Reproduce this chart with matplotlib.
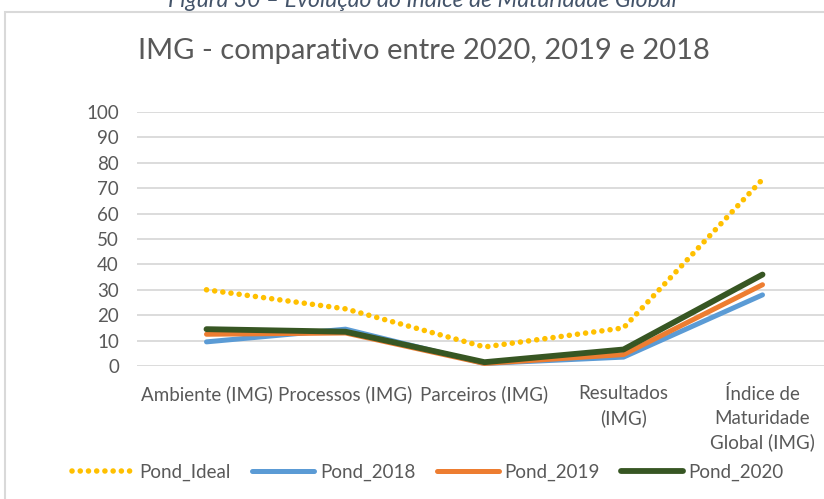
import matplotlib
matplotlib.use("Agg")
import matplotlib.pyplot as plt
from matplotlib.patches import Rectangle

plt.rcParams['font.family'] = ['Lato', 'DejaVu Sans']

categories = ['Ambiente (IMG)', 'Processos (IMG)', 'Parceiros (IMG)',
              'Resultados\n(IMG)', 'Índice de\nMaturidade\nGlobal (IMG)']
pond_ideal = [30, 22.5, 7.5, 15, 73.5]
pond_2018 = [9.5, 14.5, 1, 3.5, 28]
pond_2019 = [12.5, 13, 1, 4.5, 32]
pond_2020 = [14.5, 13.5, 1.5, 6.5, 36]
yticks = list(range(0, 101, 10))

fig = plt.figure(figsize=(8.24, 4.99), dpi=100)
W, H = 824, 499

# chart frame (cropped on the right and bottom in the reference)
fig.patches.append(Rectangle((5 / W, -0.1), 1.2, 1 - 12 / H + 0.1, transform=fig.transFigure,
                             facecolor='white', edgecolor='#D9D9D9', linewidth=1.5, zorder=-5))

# figure caption, cut at the top
fig.text(422 / W, 1 - 7 / H, 'Figura 30 – Evolução do Índice de Maturidade Global',
         ha='center', va='baseline', fontsize=16.6, style='italic', color='#44546A')

fig.text(424 / W, 1 - 51 / H, 'IMG - comparativo entre 2020, 2019 e 2018',
         ha='center', va='center', fontsize=21, color='#595959')

left, right, bottom, top = 137, 832, 366, 112
ax = fig.add_axes([left / W, 1 - bottom / H, (right - left) / W, (bottom - top) / H])
ax.set_facecolor('none')

x = list(range(len(categories)))
ax.plot(x, pond_ideal, color='#FFC000', linewidth=4.0, linestyle=(0, (0.01, 1.47)),
        dash_capstyle='round', label='Pond_Ideal')
ax.plot(x, pond_2018, color='#5B9BD5', linewidth=3.6, solid_capstyle='round', label='Pond_2018')
ax.plot(x, pond_2019, color='#ED7D31', linewidth=3.6, solid_capstyle='round', label='Pond_2019')
ax.plot(x, pond_2020, color='#375623', linewidth=4.2, solid_capstyle='round', label='Pond_2020')

ax.set_xlim(-0.5, len(categories) - 0.5)
ax.set_ylim(0, 100)
ax.set_yticks(yticks)
ax.set_xticks(x)
ax.set_xticklabels(categories, linespacing=1.45)
ax.tick_params(axis='both', length=0, labelsize=13.5, colors='#595959')
ax.tick_params(axis='y', pad=13)
ax.tick_params(axis='x', pad=14)
ax.grid(axis='y', color='#D9D9D9', linewidth=1.3)
ax.set_axisbelow(True)
for s in ax.spines.values():
    s.set_visible(False)

fig.legend(loc='center left', bbox_to_anchor=(55 / W, 1 - 472 / H), ncol=4, frameon=False,
           fontsize=13.5, labelcolor='#595959', handlelength=3.3, handletextpad=0.3,
           columnspacing=1.15)

fig.savefig('out.png', dpi=100)
